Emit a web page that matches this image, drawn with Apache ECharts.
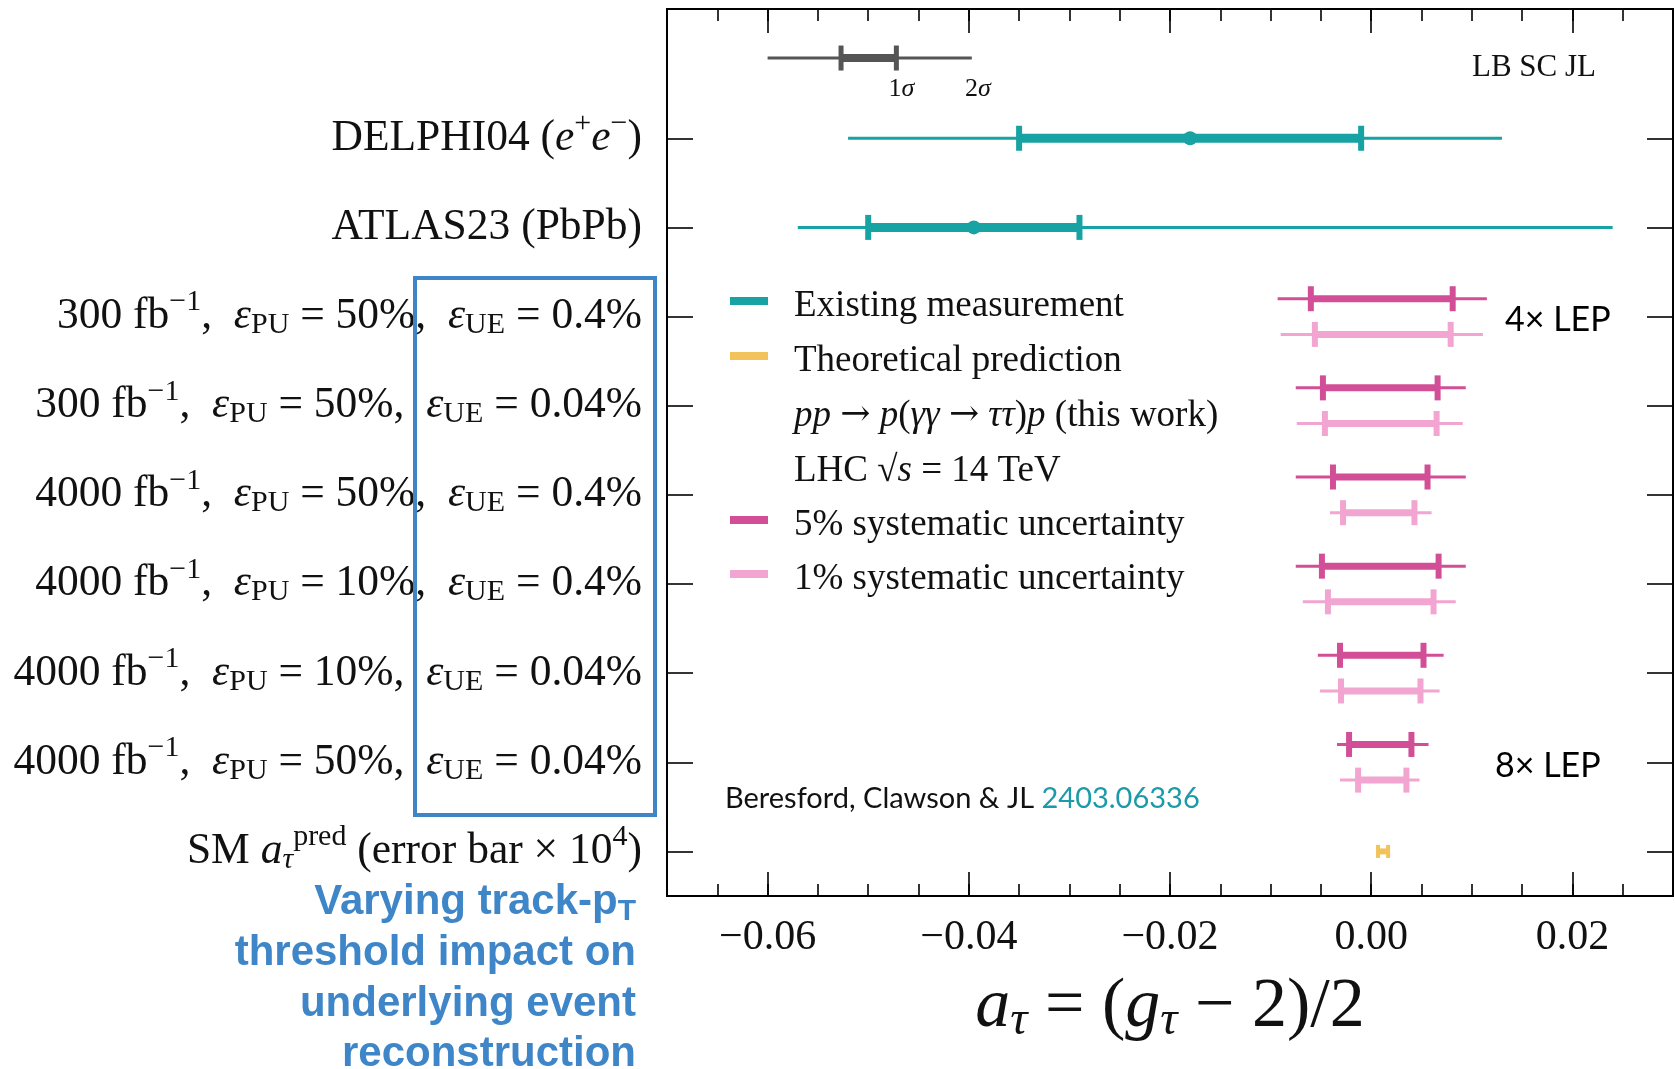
<!DOCTYPE html>
<html>
<head>
<meta charset="utf-8">
<script src="https://cdn.jsdelivr.net/npm/echarts@6/dist/echarts.min.js"></script>
<style>
  html, body { margin: 0; padding: 0; background: #ffffff; }
  #chart { width: 1675px; height: 1069px; }
</style>
</head>
<body>
<div id="chart"></div>
<script>
// ---------------- data ----------------
// row labels, top to bottom (rich-text markup for sub/superscripts)
const rowLabels = [
  'DELPHI04 ({i|e}{sup|+}{i|e}{sup|−})',
  'ATLAS23 (PbPb)',
  '300 fb{sup|−1},  {i|ε}{sub|PU} = 50%,  {i|ε}{sub|UE} = 0.4%',
  '300 fb{sup|−1},  {i|ε}{sub|PU} = 50%,  {i|ε}{sub|UE} = 0.04%',
  '4000 fb{sup|−1},  {i|ε}{sub|PU} = 50%,  {i|ε}{sub|UE} = 0.4%',
  '4000 fb{sup|−1},  {i|ε}{sub|PU} = 10%,  {i|ε}{sub|UE} = 0.4%',
  '4000 fb{sup|−1},  {i|ε}{sub|PU} = 10%,  {i|ε}{sub|UE} = 0.04%',
  '4000 fb{sup|−1},  {i|ε}{sub|PU} = 50%,  {i|ε}{sub|UE} = 0.04%',
  'SM {i|a}{subi|τ}{sup|pred} (error bar × 10{sup|4})'
];

// existing measurements (rows 0-1): best fit, 68% and 95% CL intervals
const existingRows    = [0, 1];
const existingCentral = [-0.018, -0.0395];
const existingLo68    = [-0.035, -0.050];
const existingHi68    = [-0.001, -0.029];
const existingLo95    = [-0.052, -0.057];
const existingHi95    = [0.013, 0.024];

// projections (rows 2-7) with 5% systematic uncertainty
const projRows  = [2, 3, 4, 5, 6, 7];
const sys5Lo68  = [-0.0060, -0.0048, -0.0038, -0.0049, -0.0031, -0.0022];
const sys5Hi68  = [0.0081, 0.0066, 0.0056, 0.0067, 0.0052, 0.0040];
const sys5Lo95  = [-0.0093, -0.0075, -0.0075, -0.0075, -0.0053, -0.0034];
const sys5Hi95  = [0.0115, 0.0094, 0.0094, 0.0094, 0.0072, 0.0057];
// projections with 1% systematic uncertainty
const sys1Lo68  = [-0.0056, -0.0046, -0.0028, -0.0043, -0.0030, -0.0013];
const sys1Hi68  = [0.0079, 0.0065, 0.0043, 0.0062, 0.0049, 0.0035];
const sys1Lo95  = [-0.0090, -0.0074, -0.0041, -0.0068, -0.0051, -0.0031];
const sys1Hi95  = [0.0111, 0.0091, 0.0060, 0.0084, 0.0068, 0.0048];

// SM prediction (row 8), error bar scaled by 10^4
const smRow       = 8;
const smCentral   = 0.00118;
const smErrScaled = 0.0005;

// sigma key in the upper-left corner
const keyY    = 8.9;
const keyLo95 = -0.0600, keyHi95 = -0.0397;
const keyLo68 = -0.0527, keyHi68 = -0.0472;

// axis ticks
const xMin = -0.07, xMax = 0.03, xMinorStep = 0.005;
const xTickValues = [-0.06, -0.04, -0.02, 0.00, 0.02];
const xTickLabels = ['−0.06', '−0.04', '−0.02', '0.00', '0.02'];
const yMin = -0.5, yMax = 9.45;

// ---------------- styling ----------------
const serif = 'Liberation Serif';
const TEAL = '#17a2a4', YELLOW = '#f2c35b', PINK5 = '#d24f97', PINK1 = '#f2a5d0', GREY = '#555555';
const BLUE = '#3f86c8';
const LABEL_FS = 43.5;

const nRows = rowLabels.length;
const rowPos = i => nRows - 1 - i;          // top row sits highest on the y axis
const rowTicks = rowLabels.map((_, i) => rowPos(i));

const labelRich = {
  i:    { fontFamily: serif, fontStyle: 'italic', fontSize: LABEL_FS, color: '#111' },
  sup:  { fontFamily: serif, fontSize: 30, padding: [0, 0, 28, 0], color: '#111' },
  sub:  { fontFamily: serif, fontSize: 30, padding: [17, 0, 0, 0], color: '#111' },
  subi: { fontFamily: serif, fontStyle: 'italic', fontSize: 30, padding: [17, 0, 0, 0], color: '#111' }
};

function errorBars(opt) {
  return function (params, api) {
    const y = api.value(0);
    const kids = [];
    if (opt.outer) {
      const a = api.coord([api.value(1), y]), b = api.coord([api.value(2), y]);
      kids.push({ type: 'rect', shape: { x: a[0], y: a[1] - opt.thin / 2, width: b[0] - a[0], height: opt.thin }, style: { fill: opt.color } });
    }
    const c = api.coord([api.value(3), y]), d = api.coord([api.value(4), y]);
    kids.push({ type: 'rect', shape: { x: c[0], y: c[1] - opt.thick / 2, width: d[0] - c[0], height: opt.thick }, style: { fill: opt.color } });
    [c, d].forEach(p => kids.push({
      type: 'rect', shape: { x: p[0] - opt.capW / 2, y: p[1] - opt.capH / 2, width: opt.capW, height: opt.capH }, style: { fill: opt.color }
    }));
    if (opt.dot) {
      const m = api.coord([api.value(5), y]);
      kids.push({ type: 'circle', shape: { cx: m[0], cy: m[1], r: opt.dot }, style: { fill: opt.color } });
    }
    if (opt.sigmaLabels) {
      const b = api.coord([api.value(2), y]);
      const sigRich = { s: { fontFamily: serif, fontStyle: 'italic', fontSize: 26, fill: '#111' } };
      kids.push({ type: 'text', x: d[0] + 5, y: d[1] + 31, style: { text: '1{s|σ}', rich: sigRich, fontFamily: serif, fontSize: 26, fill: '#111', align: 'center', verticalAlign: 'middle' } });
      kids.push({ type: 'text', x: b[0] + 6, y: b[1] + 31, style: { text: '2{s|σ}', rich: sigRich, fontFamily: serif, fontSize: 26, fill: '#111', align: 'center', verticalAlign: 'middle' } });
    }
    return { type: 'group', children: kids };
  };
}

const existingData = existingRows.map((r, k) =>
  [rowPos(r), existingLo95[k], existingHi95[k], existingLo68[k], existingHi68[k], existingCentral[k]]);
const OFFSET = 0.2;  // vertical split between the two systematic scenarios
const sys5Data = projRows.map((r, k) =>
  [rowPos(r) + OFFSET, sys5Lo95[k], sys5Hi95[k], sys5Lo68[k], sys5Hi68[k], 0]);
const sys1Data = projRows.map((r, k) =>
  [rowPos(r) - OFFSET, sys1Lo95[k], sys1Hi95[k], sys1Lo68[k], sys1Hi68[k], 0]);
const smData = [[rowPos(smRow), smCentral - smErrScaled, smCentral + smErrScaled,
                 smCentral - smErrScaled, smCentral + smErrScaled, smCentral]];
const keyData = [[keyY, keyLo95, keyHi95, keyLo68, keyHi68, 0]];

const tickStyle = { color: '#000', width: 1.6 };

function xAxisDef(position, major) {
  return {
    type: 'value', position, min: xMin, max: xMax,
    interval: major ? undefined : xMinorStep,
    axisLine: { show: false, onZero: false },
    splitLine: { show: false },
    axisTick: major
      ? { show: true, inside: true, length: 24, lineStyle: tickStyle, customValues: xTickValues }
      : { show: true, inside: true, length: 12, lineStyle: tickStyle },
    axisLabel: (major && position === 'bottom')
      ? {
          show: true, customValues: xTickValues, margin: 21,
          fontFamily: serif, fontSize: 42, color: '#111',
          formatter: v => xTickLabels[xTickValues.findIndex(t => Math.abs(t - v) < 1e-9)]
        }
      : { show: false }
  };
}

const xBottomMajor = xAxisDef('bottom', true);
xBottomMajor.name = '{i|a}{sub|τ} = ({i|g}{sub|τ} − 2)/2';
xBottomMajor.nameLocation = 'middle';
xBottomMajor.nameGap = 74;
xBottomMajor.nameTextStyle = {
  fontFamily: serif, fontSize: 70, color: '#111',
  rich: {
    i:   { fontFamily: serif, fontStyle: 'italic', fontSize: 70, color: '#111' },
    sub: { fontFamily: serif, fontStyle: 'italic', fontSize: 48, padding: [27, 0, 0, 0], color: '#111' }
  }
};

function yAxisDef(position) {
  return {
    type: 'value', position, min: yMin, max: yMax,
    axisLine: { show: false, onZero: false }, splitLine: { show: false },
    axisTick: { show: true, inside: true, length: 26, lineStyle: tickStyle, customValues: rowTicks },
    axisLabel: position === 'left'
      ? {
          show: true, customValues: rowTicks, margin: 25,
          fontFamily: serif, fontSize: LABEL_FS, color: '#111',
          rich: labelRich,
          formatter: v => rowLabels[nRows - 1 - Math.round(v)]
        }
      : { show: false }
  };
}

const legendRich = {
  i: { fontFamily: serif, fontStyle: 'italic', fontSize: 37, fill: '#111' },
  a: { fontFamily: 'DejaVu Serif', fontSize: 36, fill: '#111' }
};
const legendRows = [
  { y: 306, color: TEAL,   text: 'Existing measurement' },
  { y: 361, color: YELLOW, text: 'Theoretical prediction' },
  { y: 416, color: null,   text: '{i|pp} {a|→} {i|p}({i|γγ} {a|→} {i|ττ}){i|p} (this work)' },
  { y: 471, color: null,   text: 'LHC √{i|s} = 14 TeV' },
  { y: 525, color: PINK5,  text: '5% systematic uncertainty' },
  { y: 579, color: PINK1,  text: '1% systematic uncertainty' }
];
const legendGraphics = [];
legendRows.forEach(r => {
  if (r.color) {
    legendGraphics.push({ type: 'rect', shape: { x: 730, y: r.y - 9, width: 38, height: 8 }, style: { fill: r.color } });
  }
  legendGraphics.push({
    type: 'text', x: 794, y: r.y,
    style: { text: r.text, rich: legendRich, fontFamily: serif, fontSize: 37, fill: '#111', align: 'left', verticalAlign: 'middle' }
  });
});

const noteLines = [
  { y: 902,  text: 'Varying track-p{t|T}' },
  { y: 953,  text: 'threshold impact on' },
  { y: 1004, text: 'underlying event' },
  { y: 1054, text: 'reconstruction' }
];
const noteGraphics = noteLines.map(l => ({
  type: 'text', x: 636, y: l.y,
  style: {
    text: l.text, fontFamily: 'Liberation Sans', fontWeight: 'bold', fontSize: 42, fill: BLUE,
    align: 'right', verticalAlign: 'middle',
    rich: { t: { fontFamily: 'Liberation Sans', fontWeight: 'bold', fontSize: 30, fill: BLUE, padding: [20, 0, 0, 0] } }
  }
}));

const chart = echarts.init(document.getElementById('chart'), null, { renderer: 'canvas' });
chart.setOption({
  backgroundColor: '#ffffff',
  animation: false,
  grid: { left: 667, right: 2, top: 9, bottom: 173, show: true, borderColor: '#000', borderWidth: 2, backgroundColor: 'transparent' },
  xAxis: [
    xBottomMajor,
    xAxisDef('bottom', false),
    xAxisDef('top', true),
    xAxisDef('top', false)
  ],
  yAxis: [yAxisDef('left'), yAxisDef('right')],
  series: [
    { type: 'custom', name: 'sigma key', xAxisIndex: 0, yAxisIndex: 0, data: keyData,
      renderItem: errorBars({ color: GREY, thin: 3, thick: 8, capW: 5, capH: 25, outer: true, sigmaLabels: true }) },
    { type: 'custom', name: 'Existing measurement', xAxisIndex: 0, yAxisIndex: 0, data: existingData,
      renderItem: errorBars({ color: TEAL, thin: 3, thick: 9, capW: 6, capH: 25, outer: true, dot: 7 }) },
    { type: 'custom', name: '5% systematic uncertainty', xAxisIndex: 0, yAxisIndex: 0, data: sys5Data,
      renderItem: errorBars({ color: PINK5, thin: 3, thick: 7, capW: 6, capH: 25, outer: true }) },
    { type: 'custom', name: '1% systematic uncertainty', xAxisIndex: 0, yAxisIndex: 0, data: sys1Data,
      renderItem: errorBars({ color: PINK1, thin: 3, thick: 7, capW: 6, capH: 25, outer: true }) },
    { type: 'custom', name: 'Theoretical prediction', xAxisIndex: 0, yAxisIndex: 0, data: smData,
      renderItem: errorBars({ color: YELLOW, thin: 3, thick: 6, capW: 4, capH: 13, outer: false }) }
  ],
  graphic: [].concat(
    legendGraphics,
    [
      { type: 'text', x: 1472, y: 68, style: { text: 'LB SC JL', fontFamily: serif, fontSize: 31, fill: '#111', align: 'left', verticalAlign: 'middle' } },
      { type: 'text', x: 1505, y: 320, style: { text: '4× LEP', fontFamily: 'Lato', fontSize: 34, fill: '#000', align: 'left', verticalAlign: 'middle' } },
      { type: 'text', x: 1495, y: 766, style: { text: '8× LEP', fontFamily: 'Lato', fontSize: 34, fill: '#000', align: 'left', verticalAlign: 'middle' } },
      { type: 'text', x: 725, y: 799, style: {
          text: 'Beresford, Clawson & JL {n|2403.06336}', fontFamily: 'Lato', fontSize: 29, fill: '#111', align: 'left', verticalAlign: 'middle',
          rich: { n: { fontFamily: 'Lato', fontSize: 29, fill: '#1b9aaa' } } } },
      { type: 'rect', shape: { x: 415, y: 278, width: 240, height: 537 }, style: { fill: 'none', stroke: BLUE, lineWidth: 4 }, z: 100 }
    ],
    noteGraphics
  )
});
</script>
</body>
</html>
